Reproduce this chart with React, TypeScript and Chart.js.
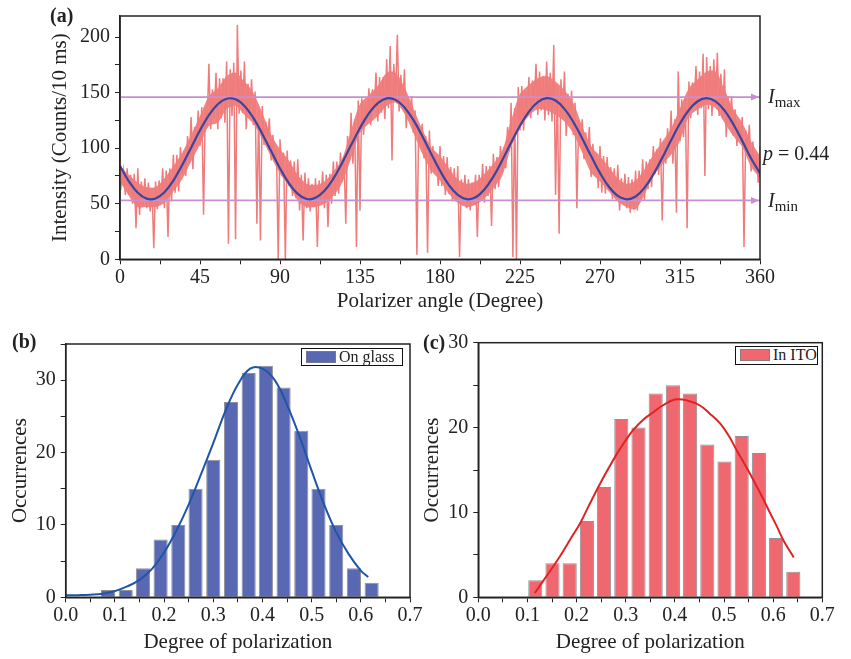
import React, { useEffect, useRef } from 'react';
import { Chart, registerables } from 'chart.js';

Chart.register(...registerables);

const FONT = '"Liberation Serif", "Times New Roman", serif';
const INK = '#222';
const RED = '#f07b7b';

// ---------------- Panel (a): intensity vs polarizer angle (1 degree sampling) ----------------
const intensity = [
  90, 68, 80, 58, 82, 58, 76, 50, 77, 28, 82, 40, 70, 49, 73, 46, 69, 43, 64, 10,
  70, 45, 71, 52, 82, 46, 80, 20, 82, 52, 94, 60, 94, 61, 101, 76, 97, 75, 111, 87,
  128, 81, 119, 102, 134, 102, 137, 40, 137, 119, 176, 117, 153, 127, 168, 117, 163, 127, 163, 123,
  178, 14, 171, 129, 177, 18, 211, 131, 170, 132, 178, 117, 158, 131, 162, 121, 151, 32, 136, 17,
  138, 103, 124, 109, 127, 89, 112, 88, 100, 0, 108, 75, 96, 0, 98, 66, 89, 57, 88, 55,
  90, 44, 76, 17, 78, 46, 73, 43, 68, 47, 73, 11, 71, 52, 79, 46, 76, 29, 77, 50,
  88, 57, 88, 59, 96, 70, 93, 32, 111, 89, 132, 86, 126, 11, 143, 44, 145, 112, 141, 123,
  154, 121, 153, 133, 168, 124, 164, 132, 164, 126, 180, 136, 192, 89, 176, 144, 202, 133, 166, 135,
  171, 118, 147, 127, 147, 114, 134, 4, 120, 103, 122, 91, 111, 6, 116, 77, 102, 78, 94, 66,
  102, 66, 93, 58, 92, 59, 83, 52, 82, 52, 84, 2, 72, 51, 76, 46, 72, 44, 69, 49,
  76, 20, 76, 56, 86, 51, 84, 57, 84, 30, 95, 63, 92, 65, 102, 79, 101, 82, 119, 97,
  141, 2, 136, 0, 155, 116, 156, 116, 152, 129, 164, 127, 161, 139, 176, 130, 169, 134, 165, 125,
  178, 130, 168, 124, 193, 58, 156, 23, 162, 126, 169, 111, 149, 122, 152, 112, 141, 46, 125, 102,
  126, 90, 114, 92, 119, 74, 104, 76, 95, 64, 102, 60, 93, 59, 92, 62, 83, 54, 82, 54,
  85, 44, 73, 51, 77, 46, 74, 42, 72, 45, 80, 44, 80, 55, 90, 53, 88, 63, 90, 65,
  102, 77, 99, 76, 109, 35, 106, 86, 118, 94, 134, 86, 126, 42, 169, 106, 144, 110, 144, 28,
  160, 127, 159, 139, 174, 130, 169, 136, 185, 75, 182, 135, 174, 129, 180, 138, 186, 129, 167, 126,
  171, 110, 147, 121, 147, 111, 135, 102, 123, 107, 128, 11, 116, 98, 121, 79, 106, 81, 95, 69,
  102,
];
const angleStep = 1;

// dense core of the noisy band, every 5 degrees
const bandAngles = [
  0, 5, 10, 15, 20, 25, 30, 35, 40, 45, 50, 55, 60, 65, 70, 75, 80, 85, 90, 95,
  100, 105, 110, 115, 120, 125, 130, 135, 140, 145, 150, 155, 160, 165, 170, 175, 180, 185, 190, 195,
  200, 205, 210, 215, 220, 225, 230, 235, 240, 245, 250, 255, 260, 265, 270, 275, 280, 285, 290, 295,
  300, 305, 310, 315, 320, 325, 330, 335, 340, 345, 350, 355, 360,
];
const bandUpper = [
  84, 76, 69, 65, 65, 73, 84, 96, 112, 129, 147, 154, 165, 168, 160, 150, 132, 112, 99, 89,
  76, 68, 67, 70, 79, 91, 116, 140, 148, 156, 168, 168, 155, 136, 117, 101, 93, 82, 72, 68,
  70, 77, 86, 98, 125, 149, 157, 163, 165, 160, 152, 141, 120, 102, 93, 83, 73, 68, 71, 81,
  94, 106, 118, 136, 154, 162, 169, 169, 153, 135, 123, 106, 93,
];
const bandLower = [
  70, 57, 47, 47, 47, 51, 61, 72, 88, 103, 120, 123, 135, 138, 130, 122, 108, 92, 77, 66,
  53, 47, 47, 50, 57, 69, 91, 114, 122, 129, 138, 141, 131, 114, 95, 80, 71, 59, 51, 47,
  49, 55, 64, 75, 101, 118, 129, 135, 134, 130, 124, 113, 96, 78, 70, 61, 52, 47, 45, 58,
  75, 85, 94, 107, 128, 135, 139, 136, 123, 111, 101, 83, 73,
];

const fitAngles = bandAngles;
const fitIntensity = [
  83.9, 70.2, 59.9, 54.6, 54.8, 60.4, 70.9, 84.8, 100.5, 116.2, 129.7, 139.6, 144.5, 144.0, 138.0, 127.3, 113.1, 97.4, 81.8, 68.5,
  58.9, 54.3, 55.3, 61.6, 72.6, 87.0, 102.8, 118.2, 131.4, 140.6, 144.8, 143.5, 136.7, 125.5, 111.0, 95.1, 79.8, 66.8, 57.9, 54.1,
  55.8, 62.9, 74.4, 89.1, 105.1, 120.2, 132.9, 141.5, 145.0, 142.9, 135.4, 123.6, 108.8, 92.9, 77.8, 65.3, 57.1, 54.0, 56.5, 64.3,
  76.4, 91.3, 107.2, 122.2, 134.4, 142.3, 145.0, 142.1, 134.0, 121.6, 106.6, 90.7, 77.5,
];
const levels = [146, 53]; // I_max, I_min

// ---------------- Panel (b): on glass ----------------
const glassCenters = [0.086, 0.122, 0.157, 0.193, 0.229, 0.264, 0.300, 0.336, 0.372, 0.407, 0.443, 0.479, 0.514, 0.550, 0.586, 0.622];
const glassCounts = [1, 1, 4, 8, 10, 15, 19, 27, 31, 32, 29, 23, 15, 10, 4, 2];
const glassFitX = [0, 0.025, 0.05, 0.075, 0.1, 0.125, 0.15, 0.175, 0.2, 0.225, 0.25, 0.275, 0.3, 0.325, 0.35, 0.375, 0.4, 0.425, 0.45, 0.475, 0.5, 0.525, 0.55, 0.575, 0.6, 0.615];
const glassFitY = [0.27, 0.3, 0.36, 0.5, 0.85, 1.5, 2.4, 3.9, 6.2, 9.2, 12.8, 17.0, 21.3, 25.8, 29.4, 31.6, 31.6, 30.0, 26.6, 22.3, 17.5, 12.9, 9.0, 6.0, 3.7, 2.8];

// ---------------- Panel (c): in ITO ----------------
const itoCenters = [0.116, 0.151, 0.186, 0.221, 0.256, 0.291, 0.326, 0.361, 0.396, 0.431, 0.466, 0.501, 0.536, 0.571, 0.606, 0.641];
const itoCounts = [2, 4, 4, 9, 13, 21, 20, 24, 25, 24, 18, 16, 19, 17, 7, 3];
const itoFitX = [0.115, 0.14, 0.166, 0.19, 0.207, 0.225, 0.248, 0.265, 0.282, 0.3, 0.315, 0.335, 0.356, 0.375, 0.4, 0.425, 0.451, 0.47, 0.492, 0.51, 0.526, 0.543, 0.56, 0.577, 0.594, 0.608, 0.621, 0.642];
const itoFitY = [0.5, 2.6, 4.8, 7.1, 8.7, 10.8, 13.4, 15.2, 16.9, 18.5, 19.7, 20.9, 21.8, 22.6, 23.3, 23.2, 22.6, 21.7, 20.5, 19.0, 17.3, 15.6, 13.8, 11.9, 9.9, 8.3, 6.7, 4.7];

// ---------------- helpers ----------------
const framePlugin = {
  id: 'frame',
  afterDraw(chart: any) {
    const { ctx, chartArea: a } = chart;
    ctx.save();
    ctx.strokeStyle = INK;
    ctx.lineWidth = 1.5;
    ctx.strokeRect(a.left, a.top, a.right - a.left, a.bottom - a.top);
    ctx.restore();
  },
};

const arrowPlugin = {
  id: 'arrows',
  afterDatasetsDraw(chart: any) {
    const { ctx, chartArea: a, scales } = chart;
    ctx.save();
    ctx.fillStyle = '#c88fd0';
    levels.forEach((lv) => {
      const y = scales.y.getPixelForValue(lv);
      const x = a.right - 1;
      ctx.beginPath();
      ctx.moveTo(x, y);
      ctx.lineTo(x - 8, y - 3.5);
      ctx.lineTo(x - 8, y + 3.5);
      ctx.closePath();
      ctx.fill();
    });
    ctx.restore();
  },
};

const tickFont = { family: FONT, size: 20 };
const titleFont = { family: FONT, size: 21 };
const gridCfg = { drawOnChartArea: false, drawTicks: true, tickLength: 5, color: INK };
const borderCfg = { color: INK, width: 1.5 };

function stepTicks(min: number, max: number, step: number) {
  const out: { value: number }[] = [];
  const n = Math.floor((max - min) / step + 1e-6);
  for (let i = 0; i <= n; i++) out.push({ value: Math.round((min + i * step) * 1000) / 1000 });
  return out;
}

function xAxis(min: number, max: number, step: number, label: (v: number) => string, title: string, height: number, titlePad: number) {
  return {
    type: 'linear',
    min,
    max,
    offset: false,
    grid: { ...gridCfg, offset: false },
    border: borderCfg,
    afterBuildTicks: (s: any) => {
      s.ticks = stepTicks(min, max, step);
    },
    ticks: { autoSkip: false, maxRotation: 0, padding: 1, color: INK, font: tickFont, callback: (v: any) => label(Number(v)) },
    title: { display: true, text: title, color: INK, font: titleFont, padding: { top: 0, bottom: titlePad } },
    afterFit: (s: any) => {
      s.height = height;
      s.paddingLeft = 0;
      s.paddingRight = 0;
    },
  };
}

function yAxis(min: number, max: number, step: number, label: (v: number) => string, title: string, width: number, titlePad: number) {
  return {
    type: 'linear',
    min,
    max,
    grid: gridCfg,
    border: borderCfg,
    afterBuildTicks: (s: any) => {
      s.ticks = stepTicks(min, max, step);
    },
    ticks: { autoSkip: false, padding: 5, color: INK, font: tickFont, callback: (v: any) => label(Number(v)) },
    title: { display: true, text: title, color: INK, font: titleFont, padding: { top: titlePad, bottom: 0 } },
    afterFit: (s: any) => {
      s.width = width;
      s.paddingTop = 0;
      s.paddingBottom = 0;
    },
  };
}

const decimalLabel = (v: number) => (Math.round(v * 100) % 10 === 0 ? v.toFixed(1) : '');

function configA(): any {
  return {
    type: 'line',
    data: {
      datasets: [
        {
          label: 'fit',
          data: fitAngles.map((x, i) => ({ x, y: fitIntensity[i] })),
          borderColor: '#3a45a0',
          borderWidth: 2.2,
          pointRadius: 0,
          tension: 0.4,
          order: 1,
        },
        {
          label: 'Imax',
          data: [{ x: 0, y: levels[0] }, { x: 360, y: levels[0] }],
          borderColor: '#c88fd0',
          borderWidth: 1.6,
          pointRadius: 0,
          order: 2,
        },
        {
          label: 'Imin',
          data: [{ x: 0, y: levels[1] }, { x: 360, y: levels[1] }],
          borderColor: '#c88fd0',
          borderWidth: 1.6,
          pointRadius: 0,
          order: 2,
        },
        {
          label: 'signal',
          data: intensity.map((y, i) => ({ x: i * angleStep, y })),
          borderColor: RED,
          borderWidth: 1.5,
          pointRadius: 0,
          tension: 0,
          order: 3,
        },
        {
          label: 'bandUpper',
          data: bandAngles.map((x, i) => ({ x, y: bandUpper[i] })),
          borderWidth: 0,
          borderColor: 'rgba(0,0,0,0)',
          backgroundColor: 'rgba(240,123,123,0.92)',
          fill: '+1',
          pointRadius: 0,
          tension: 0.3,
          order: 4,
        },
        {
          label: 'bandLower',
          data: bandAngles.map((x, i) => ({ x, y: bandLower[i] })),
          borderWidth: 0,
          borderColor: 'rgba(0,0,0,0)',
          pointRadius: 0,
          tension: 0.3,
          fill: false,
          order: 4,
        },
      ],
    },
    options: {
      animation: false,
      responsive: false,
      events: [],
      layout: { padding: { left: 0, top: 16, right: 91, bottom: 0 } },
      plugins: { legend: { display: false }, tooltip: { enabled: false }, filler: { propagate: false } },
      scales: {
        x: xAxis(0, 360, 22.5, (v) => (v % 45 === 0 ? String(v) : ''), 'Polarizer angle (Degree)', 60.7, 6),
        y: yAxis(0, 219, 25, (v) => (v % 50 === 0 ? String(v) : ''), 'Intensity (Counts/10 ms)', 120, 47.4),
      },
    },
    plugins: [framePlugin, arrowPlugin],
  };
}

function configHist(centers: number[], counts: number[], fx: number[], fy: number[], barColor: string, lineColor: string, yMax: number, yWidth: number, yTitlePad: number, pad: any): any {
  return {
    type: 'bar',
    data: {
      datasets: [
        {
          type: 'line',
          label: 'fit',
          data: fx.map((x, i) => ({ x, y: fy[i] })),
          borderColor: lineColor,
          borderWidth: 2,
          pointRadius: 0,
          tension: 0.4,
          order: 0,
        },
        {
          type: 'bar',
          label: 'hist',
          data: centers.map((x, i) => ({ x, y: counts[i] })),
          backgroundColor: barColor,
          borderColor: 'rgba(125,125,135,0.85)',
          borderWidth: 1,
          barPercentage: 0.82,
          categoryPercentage: 1,
          order: 1,
        },
      ],
    },
    options: {
      animation: false,
      responsive: false,
      events: [],
      layout: { padding: pad },
      plugins: { legend: { display: false }, tooltip: { enabled: false } },
      scales: {
        x: xAxis(0, 0.7, 0.05, decimalLabel, 'Degree of polarization', 61.7, 4),
        y: yAxis(0, yMax, 5, (v) => (v % 10 === 0 ? String(v) : ''), 'Occurrences', yWidth, yTitlePad),
      },
    },
    plugins: [framePlugin],
  };
}

function ChartCanvas({ make, left, top, width, height }: { make: () => any; left: number; top: number; width: number; height: number }) {
  const ref = useRef<HTMLCanvasElement>(null);
  useEffect(() => {
    const chart = new Chart(ref.current as HTMLCanvasElement, make());
    return () => chart.destroy();
  }, []);
  return <canvas ref={ref} width={width} height={height} style={{ position: 'absolute', left, top, width, height }} />;
}

const textBase: React.CSSProperties = {
  position: 'absolute',
  fontFamily: FONT,
  color: INK,
  lineHeight: 1,
  whiteSpace: 'nowrap',
};

function Legend({ left, top, width, height, color, text }: { left: number; top: number; width: number; height: number; color: string; text: string }) {
  return (
    <div style={{ position: 'absolute', left, top, width, height, border: '1.6px solid #111', boxSizing: 'border-box', background: '#fff' }}>
      <div style={{ position: 'absolute', left: 4, top: 2, width: 30, height: 12, background: color, border: '1px solid rgba(125,125,135,0.85)', boxSizing: 'border-box' }} />
      <div style={{ ...textBase, left: 37, top: 0, fontSize: 16, lineHeight: '16px' }}>{text}</div>
    </div>
  );
}

export default function App() {
  return (
    <div style={{ position: 'absolute', left: 0, top: 0, width: 851, height: 659, background: '#fff', overflow: 'hidden' }}>
      <ChartCanvas make={configA} left={0} top={0} width={851} height={320} />
      <ChartCanvas
        make={() => configHist(glassCenters, glassCounts, glassFitX, glassFitY, '#5868b2', '#1f55a8', 35, 65.7, 7.4, { left: 0, top: 24, right: 20, bottom: 0 })}
        left={0}
        top={320}
        width={430}
        height={339}
      />
      <ChartCanvas
        make={() => configHist(itoCenters, itoCounts, itoFitX, itoFitY, '#f0686f', '#e02222', 30, 58.3, 0, { left: 0, top: 22.7, right: 28.7, bottom: 0 })}
        left={420}
        top={320}
        width={431}
        height={339}
      />

      <div style={{ ...textBase, left: 50, top: 5, fontSize: 20, fontWeight: 'bold' }}>(a)</div>
      <div style={{ ...textBase, left: 12, top: 331, fontSize: 20, fontWeight: 'bold' }}>(b)</div>
      <div style={{ ...textBase, left: 423, top: 332, fontSize: 20, fontWeight: 'bold' }}>(c)</div>

      <div style={{ ...textBase, left: 768, top: 86, fontSize: 20, fontStyle: 'italic' }}>
        I<span style={{ fontStyle: 'normal', fontSize: 15, position: 'relative', top: 4 }}>max</span>
      </div>
      <div style={{ ...textBase, left: 763, top: 142.5, fontSize: 20 }}>
        <i>p</i> = 0.44
      </div>
      <div style={{ ...textBase, left: 768, top: 190, fontSize: 20, fontStyle: 'italic' }}>
        I<span style={{ fontStyle: 'normal', fontSize: 15, position: 'relative', top: 4 }}>min</span>
      </div>

      <Legend left={301} top={347.7} width={102} height={18.3} color="#5868b2" text="On glass" />
      <Legend left={735} top={346} width={83} height={19} color="#f0686f" text="In ITO" />
    </div>
  );
}
